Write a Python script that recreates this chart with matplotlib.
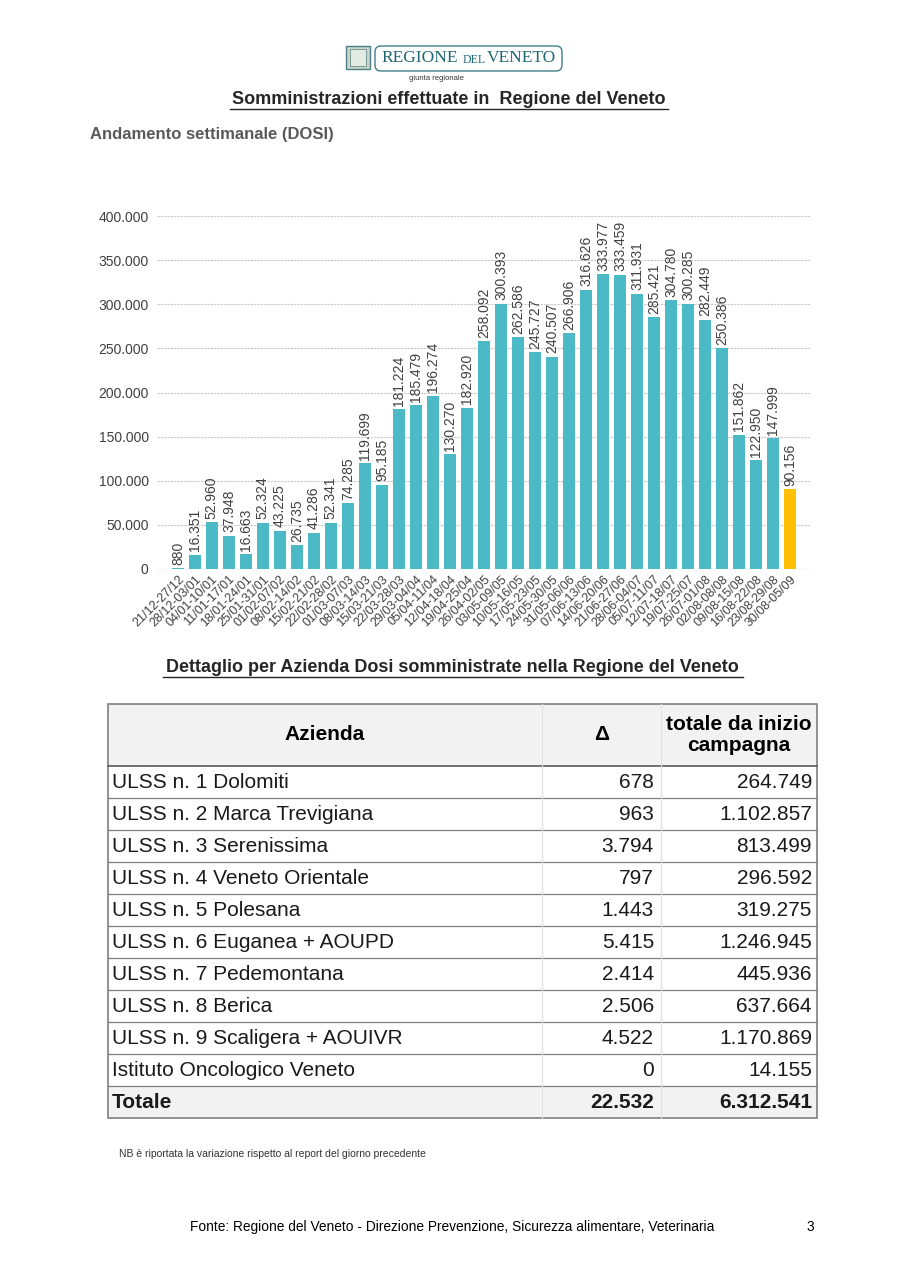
import numpy as np
import matplotlib
matplotlib.use("Agg")
import matplotlib.pyplot as plt
from matplotlib.patches import Rectangle, FancyBboxPatch

# weekly doses
weeks = ["21/12-27/12", "28/12-03/01", "04/01-10/01", "11/01-17/01", "18/01-24/01",
         "25/01-31/01", "01/02-07/02", "08/02-14/02", "15/02-21/02", "22/02-28/02",
         "01/03-07/03", "08/03-14/03", "15/03-21/03", "22/03-28/03", "29/03-04/04",
         "05/04-11/04", "12/04-18/04", "19/04-25/04", "26/04-02/05", "03/05-09/05",
         "10/05-16/05", "17/05-23/05", "24/05-30/05", "31/05-06/06", "07/06-13/06",
         "14/06-20/06", "21/06-27/06", "28/06-04/07", "05/07-11/07", "12/07-18/07",
         "19/07-25/07", "26/07-01/08", "02/08-08/08", "09/08-15/08", "16/08-22/08",
         "23/08-29/08", "30/08-05/09"]
doses = [880, 16351, 52960, 37948, 16663, 52324, 43225, 26735, 41286, 52341,
         74285, 119699, 95185, 181224, 185479, 196274, 130270, 182920, 258092, 300393,
         262586, 245727, 240507, 266906, 316626, 333977, 333459, 311931, 285421, 304780,
         300285, 282449, 250386, 151862, 122950, 147999, 90156]

# table
aziende = ["ULSS n. 1 Dolomiti", "ULSS n. 2 Marca Trevigiana", "ULSS n. 3 Serenissima",
           "ULSS n. 4 Veneto Orientale", "ULSS n. 5 Polesana", "ULSS n. 6 Euganea + AOUPD",
           "ULSS n. 7 Pedemontana", "ULSS n. 8 Berica", "ULSS n. 9 Scaligera + AOUIVR",
           "Istituto Oncologico Veneto"]
delta = [678, 963, 3794, 797, 1443, 5415, 2414, 2506, 4522, 0]
totale = [264749, 1102857, 813499, 296592, 319275, 1246945, 445936, 637664, 1170869, 14155]


def itn(v):
    return f"{v:,}".replace(",", ".")


plt.rcParams['font.family'] = ['Liberation Sans', 'DejaVu Sans']
sans = ['Liberation Sans', 'DejaVu Sans']
tsize = 15

fig = plt.figure(figsize=(9.04, 12.8), dpi=100)

# page overlay in pixel coords
page = fig.add_axes([0, 0, 1, 1], zorder=0)
page.set_xlim(0, 904)
page.set_ylim(1280, 0)
page.axis('off')

# logo
page.add_patch(Rectangle((346, 46), 24, 23, facecolor='#c9d6c9', edgecolor='#4d7f86', lw=1))
page.add_patch(Rectangle((350, 49), 16, 17, facecolor='#e4ebe2', edgecolor='#6a8f8a', lw=0.6))
page.add_patch(FancyBboxPatch((375, 46), 187, 25, boxstyle="round,pad=0,rounding_size=6",
                              facecolor='white', edgecolor='#3f7f88', lw=1))
page.text(381, 58.5, "REGIONE", family='Liberation Serif', fontsize=12.5, color='#1f6673', va='center')
page.text(463, 59.8, "DEL", family='Liberation Serif', fontsize=8.5, color='#1f6673', va='center')
page.text(487, 58.5, "VENETO", family='Liberation Serif', fontsize=12.5, color='#1f6673', va='center')
page.text(436, 78, "giunta regionale", fontsize=5.5, color='#333333', ha='center', va='center')

# titles
page.text(449, 100, "Somministrazioni effettuate in  Regione del Veneto", fontsize=13,
          weight='bold', color='#262626', ha='center', va='center')
page.plot([230, 668], [109, 109], color='#262626', lw=1)
page.text(90, 135, "Andamento settimanale (DOSI)", fontsize=12, weight='bold',
          color='#595959', ha='left', va='center')

# chart
ax = fig.add_axes([157 / 904, 1 - 569 / 1280, 653 / 904, 353 / 1280], zorder=2)
x = np.arange(len(doses))
colors = ['#4bbac6'] * (len(doses) - 1) + ['#ffc000']
ax.bar(x, doses, width=0.68, color=colors, zorder=3)
for xi, v in zip(x, doses):
    ax.text(xi, v + 4000, itn(v), rotation=90, ha='center', va='bottom',
            fontsize=10, color='#404040', clip_on=False)
ax.set_ylim(0, 400000)
ax.set_xlim(-1.23, len(doses) - 1 + 1.18)
yt = np.arange(0, 400001, 50000)
ax.set_yticks(yt)
ax.set_yticklabels([itn(int(t)) for t in yt], fontsize=10, color='#404040')
ax.set_xticks(x)
ax.set_xticklabels(weeks, rotation=45, ha='right', va='top', rotation_mode='anchor',
                   fontsize=9, color='#404040')
ax.tick_params(axis='both', length=0, pad=6)
ax.tick_params(axis='x', pad=3)
ax.grid(axis='y', color='#c8c8c8', linestyle=(0, (2, 1)), lw=0.8, zorder=0)
for s in ax.spines.values():
    s.set_visible(False)
ax.axhline(0, color='#c8c8c8', lw=0.8, zorder=1)

# table title
page.text(452, 668, "Dettaglio per Azienda Dosi somministrate nella Regione del Veneto",
          fontsize=13, weight='bold', color='#262626', ha='center', va='center')
page.plot([163, 743], [677, 677], color='#262626', lw=1)

# table
L, R, C1, C2 = 108, 817, 542, 661
top, hdr, rh = 704, 766, 32
nrows = len(aziende) + 1
bottom = hdr + rh * nrows
page.add_patch(Rectangle((L, top), R - L, hdr - top, facecolor='#f2f2f2', edgecolor='none'))
page.add_patch(Rectangle((L, bottom - rh), R - L, rh, facecolor='#f2f2f2', edgecolor='none'))
for i in range(1, nrows):
    page.plot([L, R], [hdr + rh * i] * 2, color='#7f7f7f', lw=0.9)
page.plot([L, R], [hdr, hdr], color='#595959', lw=1.2)
page.plot([C1, C1], [top, bottom], color='#e0e0e0', lw=0.8)
page.plot([C2, C2], [top, bottom], color='#e0e0e0', lw=0.8)
page.add_patch(Rectangle((L, top), R - L, bottom - top, facecolor='none', edgecolor='#7f7f7f', lw=1.2))

page.text((L + C1) / 2, (top + hdr) / 2, "Azienda", family=sans, fontsize=tsize,
          weight='bold', ha='center', va='center', color='black')
page.text((C1 + C2) / 2, (top + hdr) / 2, "Δ", family=sans, fontsize=tsize,
          weight='bold', ha='center', va='center', color='black')
page.text((C2 + R) / 2, (top + hdr) / 2, "totale da inizio\ncampagna", family=sans,
          fontsize=tsize, weight='bold', ha='center', va='center', color='black',
          linespacing=1.15)

rows = list(zip(aziende, delta, totale)) + [("Totale", sum(delta), sum(totale))]
for i, (name, d, t) in enumerate(rows):
    yc = hdr + rh * i + rh / 2 + 1
    w = 'bold' if i == len(rows) - 1 else 'normal'
    page.text(L + 4, yc, name, family=sans, fontsize=tsize, weight=w, ha='left', va='center', color='#1a1a1a')
    page.text(C2 - 7, yc, itn(d), family=sans, fontsize=tsize, weight=w, ha='right', va='center', color='#1a1a1a')
    page.text(R - 5, yc, itn(t), family=sans, fontsize=tsize, weight=w, ha='right', va='center', color='#1a1a1a')

page.text(119, 1154, "NB è riportata la variazione rispetto al report del giorno precedente",
          fontsize=7.5, color='#333333', ha='left', va='center')
page.text(190, 1227, "Fonte: Regione del Veneto - Direzione Prevenzione, Sicurezza alimentare, Veterinaria",
          fontsize=9.9, color='black', ha='left', va='center')
page.text(814, 1227, "3", fontsize=9.9, color='black', ha='right', va='center')

fig.savefig("out.png", dpi=100, facecolor='white')
